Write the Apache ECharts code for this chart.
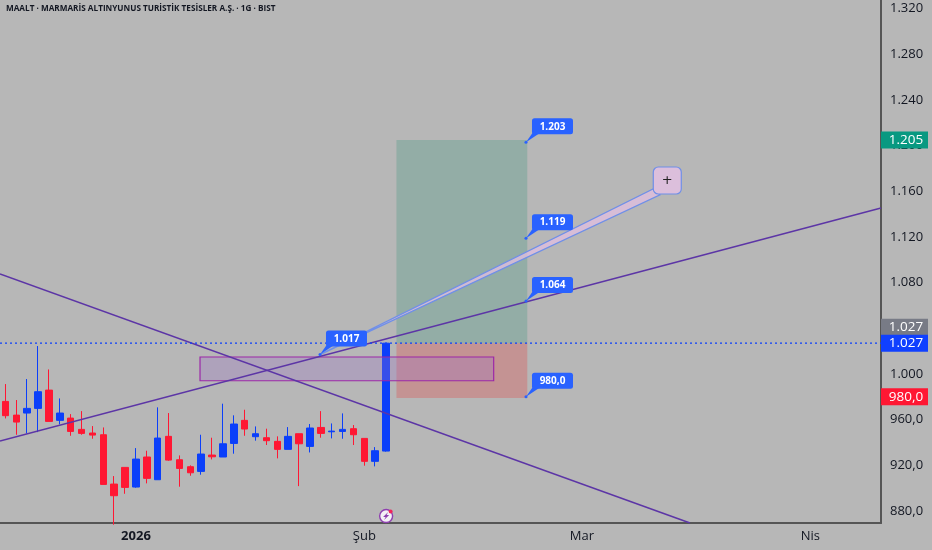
<!DOCTYPE html>
<html>
<head>
<meta charset="utf-8">
<title>MAALT</title>
<script src="https://cdn.jsdelivr.net/npm/echarts@6/dist/echarts.min.js"></script>
<style>
	html, body { margin: 0; padding: 0; background: #b7b7b7; }
	#main { width: 932px; height: 550px; }
</style>
</head>
<body>
<div id="main"></div>
<script>
var titleText = 'MAALT · MARMARİS ALTINYUNUS TURİSTİK TESİSLER A.Ş. · 1G · BIST';

// candles
var opens  = [976, 964, 965.8, 969.9, 985.9, 959.4, 961.4, 951.5, 948.3, 946.8, 903.6, 918.2, 901, 927.3, 907.4, 945.4, 924.9, 918.8, 914.7, 929, 927.3, 939.2, 959.4, 945.1, 944.2, 941, 934, 947.7, 936.6, 953.2, 949.4, 949.7, 952.1, 943.6, 923.5, 932.5];
var closes = [963.5, 957.9, 969.9, 984.5, 958.5, 965.8, 949.7, 948, 946.5, 903.3, 893.4, 900.7, 925.5, 908.6, 943.9, 924.6, 917.3, 913.5, 929.9, 927.5, 938.9, 956.2, 951.8, 947.7, 941.6, 934, 945.4, 938.9, 952.7, 948, 950, 951.5, 946.8, 923.5, 932.8, 1027];
var lows   = [961.1, 946.8, 948, 949.1, 958.5, 955.9, 945.9, 946.8, 943.3, 903.3, 868, 895.1, 900.4, 904.2, 907.4, 924, 901.3, 910.9, 911.8, 925.2, 927.3, 930.2, 945.9, 941.6, 937.8, 926.1, 934, 901.8, 931.3, 944.2, 943.6, 943.3, 937.8, 919.7, 919.1, 932];
var highs  = [991.2, 977.2, 995.6, 1024.5, 1004, 978.6, 964.9, 967.5, 954.4, 953.2, 910.6, 918.2, 935.1, 932.8, 970.8, 965.8, 928.7, 920, 946.8, 944.2, 974, 963.8, 968.7, 954.1, 952.1, 945.4, 953.5, 947.7, 956.2, 967.5, 956.7, 965.5, 955.3, 943.6, 936, 1027];

// 81 daily slots, only the month starts carry a label
var categories = [
	'', '', '', '', '', '', '', '', '', '', '', '', '2026', '', '', '', '', '', '', '', '', '',
	'', '', '', '', '', '', '', '', '', '', '', 'Şub', '', '', '', '', '', '', '', '', '', '',
	'', '', '', '', '', '', '', '', '', 'Mar', '', '', '', '', '', '', '', '', '', '', '', '',
	'', '', '', '', '', '', '', '', 'Nis', '', '', '', '', '', ''
];
var priceTicks = [880, 920, 960, 1000, 1040, 1080, 1120, 1160, 1200, 1240, 1280, 1320];

// drawings, x is in candle slots from the left edge
var riseLineX = [0, 81];
var riseLineY = [941.3, 1145.4];
var fallLineX = [0, 63.44];
var fallLineY = [1087.6, 869.5];
var lastPrice = 1027;
var zoneX = [18.39, 45.39];
var zoneY = [994.1, 1014.9];
var boxX = [36.45, 48.48];
var targetPrice = 1205;
var stopPrice = 979;
var wedgeX = [29.42, 60.04, 60.68];
var wedgeY = [1017, 1162, 1157];
var noteX = 61.35;
var noteY = 1169.5;
var calloutX = [48.36, 48.36, 48.36, 29.42, 48.36];
var calloutY = [1203, 1119, 1064, 1017, 980];
var calloutText = ['1.203', '1.119', '1.064', '1.017', '980,0'];
var tagY = [1205, 1027, 1027, 980];
var tagText = ['1.205', '1.027', '1.027', '980,0'];
var boltIndex = 35;
var boltPrice = 875.6;

var BLUE = '#0b3ffa', RED = '#ff1733', PURPLE = '#5c35a6';
var tagColors = ['#089981', '#787b86', '#1040ff', '#ff1733'];
var tagShift = [0, -16, 0, 0];
var axisFont = '500 13.5px "Open Sans"';

function priceLabel(v){
	if(v >= 1000){
		return Math.floor(v / 1000) + '.' + ('00' + (v % 1000)).slice(-3);
	}
	return v + ',0';
}

// one filled shape per custom series, corners given in axis values
function polygonSeries(xs, ys, fill, stroke, z){
	return {
		type: 'custom',
		xAxisIndex: 1,
		z: z,
		silent: true,
		clip: true,
		data: [[xs[0], ys[0]]],
		renderItem: function(params, api){
			var pts = [];
			for(var i = 0; i < xs.length; i++){
				pts.push(api.coord([xs[i], ys[i]]));
			}
			return {
				type: 'polygon',
				shape: { points: pts },
				style: { fill: fill, stroke: stroke, lineWidth: stroke ? 1.2 : 0 }
			};
		}
	};
}

function lineSeries(xs, ys, color, width, dash, z){
	var pts = [];
	for(var i = 0; i < xs.length; i++){
		pts.push([xs[i], ys[i]]);
	}
	return {
		type: 'line',
		xAxisIndex: 1,
		z: z,
		silent: true,
		showSymbol: false,
		data: pts,
		lineStyle: { color: color, width: width, type: dash }
	};
}

var candleData = [];
for(var i = 0; i < opens.length; i++){
	candleData.push([opens[i], closes[i], lows[i], highs[i]]);
}

var calloutData = [];
for(var c = 0; c < calloutX.length; c++){
	calloutData.push([calloutX[c], calloutY[c], c]);
}

var tagData = [];
for(var t = 0; t < tagY.length; t++){
	tagData.push([0, tagY[t], t]);
}

var option = {
	animation: false,
	backgroundColor: '#b7b7b7',
	title: {
		text: titleText,
		left: 6,
		top: 5,
		padding: 0,
		textStyle: { fontFamily: 'Open Sans', fontSize: 8.2, fontWeight: 'bold', color: '#131722' }
	},
	grid: { left: 0, top: 0, right: 51, bottom: 27 },
	xAxis: [
		{
			type: 'category',
			data: categories,
			boundaryGap: true,
			axisLine: { lineStyle: { color: '#555', width: 2 } },
			axisTick: { show: false },
			splitLine: { show: false },
			axisLabel: {
				interval: function(index, value){ return value !== ''; },
				hideOverlap: false,
				margin: 7,
				color: '#131722',
				fontFamily: 'Open Sans',
				fontWeight: 500,
				fontSize: 13,
				formatter: function(value){
					return value === '2026' ? '{b|' + value + '}' : value;
				},
				rich: { b: { fontFamily: 'Open Sans', fontSize: 13, fontWeight: 'bold', color: '#131722' } }
			}
		},
		{ type: 'value', min: 0, max: 81, show: false, splitLine: { show: false } }
	],
	yAxis: {
		type: 'value',
		position: 'right',
		min: 869.5,
		max: 1327.6,
		scale: true,
		axisLine: { show: true, onZero: false, lineStyle: { color: '#555', width: 2 } },
		axisTick: { show: false },
		splitLine: { show: false },
		axisLabel: {
			customValues: priceTicks,
			margin: 9,
			color: '#131722',
			fontFamily: 'Open Sans',
			fontWeight: 500,
			fontSize: 13,
			formatter: priceLabel
		}
	},
	series: [
		{
			type: 'candlestick',
			z: 3,
			silent: true,
			barWidth: 7,
			data: candleData,
			itemStyle: { color: BLUE, color0: RED, borderColor: BLUE, borderColor0: RED, borderWidth: 1 }
		},
		polygonSeries([boxX[0], boxX[1], boxX[1], boxX[0]], [lastPrice, lastPrice, targetPrice, targetPrice], 'rgba(66,153,130,0.3)', null, 2),
		polygonSeries([boxX[0], boxX[1], boxX[1], boxX[0]], [stopPrice, stopPrice, lastPrice, lastPrice], 'rgba(227,67,67,0.3)', null, 2),
		polygonSeries([zoneX[0], zoneX[1], zoneX[1], zoneX[0]], [zoneY[0], zoneY[0], zoneY[1], zoneY[1]], 'rgba(156,115,200,0.3)', '#9c27a8', 4),
		lineSeries(riseLineX, riseLineY, PURPLE, 1.5, 'solid', 5),
		lineSeries(fallLineX, fallLineY, PURPLE, 1.5, 'solid', 5),
		lineSeries([0, 81], [lastPrice, lastPrice], BLUE, 1.3, [2, 3], 5),
		polygonSeries(wedgeX, wedgeY, 'rgba(222,190,222,0.8)', '#6f8fe8', 6),
		{
			// the + note at the end of the wedge
			type: 'custom',
			xAxisIndex: 1,
			z: 7,
			silent: true,
			data: [[noteX, noteY]],
			renderItem: function(params, api){
				var p = api.coord([api.value(0), api.value(1)]);
				return {
					type: 'group',
					children: [
						{ type: 'rect', shape: { x: p[0] - 14, y: p[1] - 13.5, width: 28, height: 27, r: 5 }, style: { fill: '#dcbfdc', stroke: '#6f8fe8', lineWidth: 1.2 } },
						{ type: 'text', style: { x: p[0], y: p[1], text: '+', fill: '#222', font: '13px "DejaVu Sans"', align: 'center', verticalAlign: 'middle' } }
					]
				};
			}
		},
		{
			type: 'custom',
			xAxisIndex: 1,
			z: 8,
			silent: true,
			data: calloutData,
			renderItem: function(params, api){
				var p = api.coord([api.value(0), api.value(1)]);
				var label = calloutText[api.value(2)];
				return {
					type: 'group',
					children: [
						{ type: 'circle', shape: { cx: p[0], cy: p[1], r: 1.5 }, style: { fill: '#2962ff' } },
						{ type: 'polygon', shape: { points: [p, [p[0] + 7, p[1] - 10], [p[0] + 15, p[1] - 10]] }, style: { fill: '#2962ff' } },
						{ type: 'rect', shape: { x: p[0] + 6, y: p[1] - 24, width: 41, height: 16, r: 2.5 }, style: { fill: '#2962ff' } },
						{ type: 'text', style: { x: p[0] + 26.5, y: p[1] - 15.5, text: label, fill: '#fff', font: 'bold 10px "Open Sans"', align: 'center', verticalAlign: 'middle' } }
					]
				};
			}
		},
		{
			// price tags on the axis
			type: 'custom',
			xAxisIndex: 1,
			z: 9,
			silent: true,
			clip: false,
			data: tagData,
			renderItem: function(params, api){
				var n = api.value(2);
				var y = api.coord([0, api.value(1)])[1] + tagShift[n];
				return {
					type: 'group',
					children: [
						{ type: 'rect', shape: { x: 881, y: y - 8.5, width: 47, height: 17 }, style: { fill: tagColors[n] } },
						{ type: 'text', style: { x: 906, y: y, text: tagText[n], fill: '#fff', font: axisFont, align: 'center', verticalAlign: 'middle' } }
					]
				};
			}
		},
		{
			// earnings mark under the last candle
			type: 'custom',
			z: 9,
			silent: true,
			clip: false,
			data: [[boltIndex, boltPrice]],
			renderItem: function(params, api){
				var p = api.coord([api.value(0), api.value(1)]);
				return {
					type: 'group',
					children: [
						{ type: 'circle', shape: { cx: p[0], cy: p[1], r: 6.5 }, style: { fill: '#f4f0f6', stroke: '#8e3fb0', lineWidth: 1.4 } },
						{ type: 'polygon', shape: { points: [[p[0] + 2, p[1] - 4], [p[0] - 3, p[1] + 1], [p[0] - 0.5, p[1] + 1], [p[0] - 2, p[1] + 4], [p[0] + 3, p[1] - 1], [p[0] + 0.5, p[1] - 1]] }, style: { fill: '#8e3fb0' } },
						{ type: 'circle', shape: { cx: p[0] + 4.5, cy: p[1] - 4.5, r: 2 }, style: { fill: '#f0245c' } }
					]
				};
			}
		}
	]
};

var myChart = echarts.init(document.getElementById('main'));
myChart.setOption(option);
</script>
</body>
</html>
